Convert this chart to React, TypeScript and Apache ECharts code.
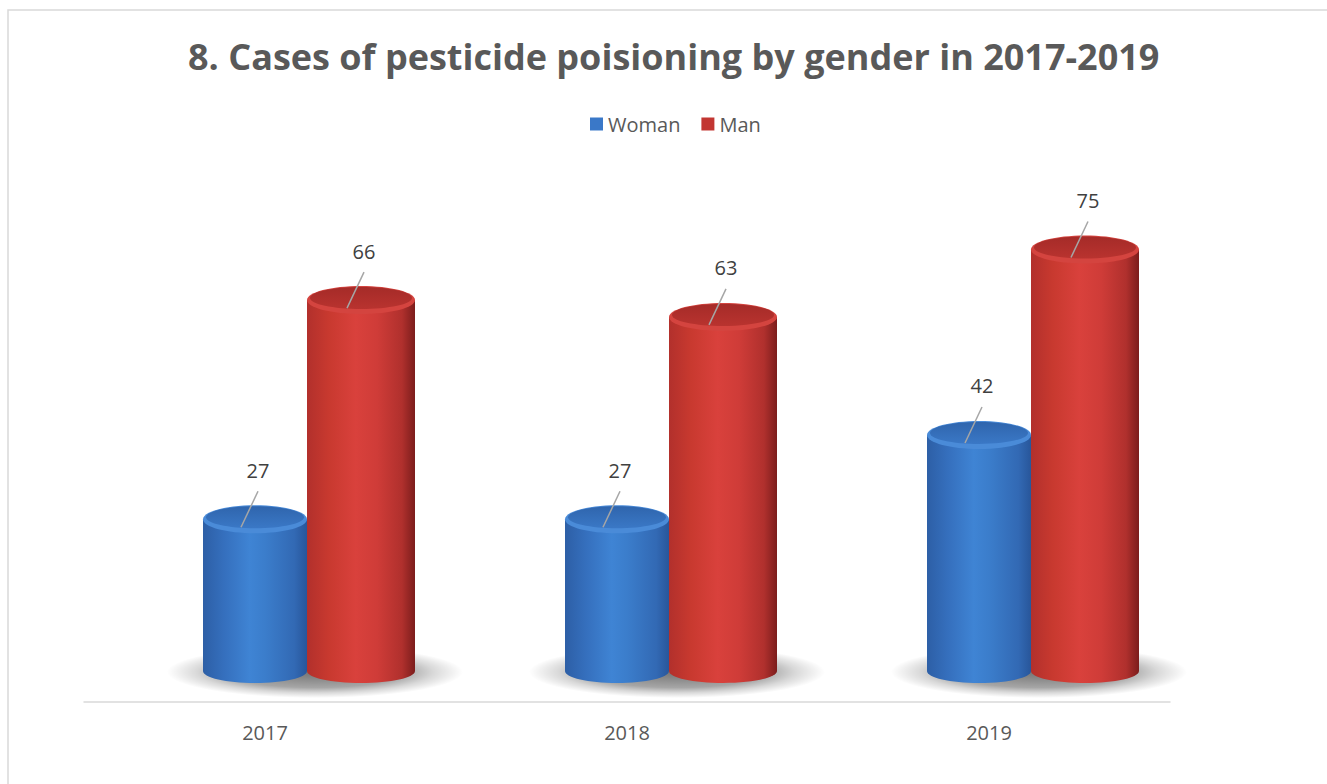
import React, { useEffect, useRef } from "react";
import * as echarts from "echarts";

const categories = ["2017", "2018", "2019"];
const womanValues = [27, 27, 42];
const manValues = [66, 63, 75];
const seriesNames = ["Woman", "Man"];

const DEPTH_X = 44;
const DEPTH_Y = -31;
const TOP_RY = 14;
const BOT_RY = 12;

const styles = [
  {
    offset: -54,
    width: 104,
    body: [
      [0, "#2d5fa6"],
      [0.2, "#356fbd"],
      [0.45, "#3f84d4"],
      [0.6, "#3b7dcb"],
      [0.88, "#3269b4"],
      [1, "#28569a"],
    ],
    rim: "#4a8bd8",
    top: ["#2f65ad", "#3a78c6"],
    legend: "#3a78c8",
  },
  {
    offset: 52,
    width: 108,
    body: [
      [0, "#b2302c"],
      [0.2, "#c8392f"],
      [0.45, "#d9413c"],
      [0.65, "#cf3c38"],
      [0.88, "#b0302d"],
      [1, "#7c1d1c"],
    ],
    rim: "#d4443f",
    top: ["#a52b28", "#b9332f"],
    legend: "#c23632",
  },
];

function makeRender(si: number) {
  const st = styles[si];
  return (params: any, api: any) => {
    const cat = api.value(0);
    const val = api.value(1);
    const base = api.coord([cat, 0]);
    const topPt = api.coord([cat, val]);
    const pairX = base[0] + DEPTH_X;
    const cx = pairX + st.offset;
    const yb = base[1] + DEPTH_Y;
    const yt = topPt[1] + DEPTH_Y;
    const w = st.width;
    const bodyGrad = new echarts.graphic.LinearGradient(
      0,
      0,
      1,
      0,
      st.body.map((s: any) => ({ offset: s[0], color: s[1] }))
    );
    const children: any[] = [];
    if (si === 0) {
      children.push({
        type: "ellipse",
        shape: { cx: pairX + 6, cy: yb + 1, rx: 148, ry: 26 },
        style: {
          fill: new echarts.graphic.RadialGradient(0.5, 0.5, 0.5, [
            { offset: 0, color: "rgba(0,0,0,0.55)" },
            { offset: 0.6, color: "rgba(0,0,0,0.35)" },
            { offset: 0.8, color: "rgba(0,0,0,0.15)" },
            { offset: 1, color: "rgba(0,0,0,0)" },
          ]),
        },
      });
    }
    children.push({
      type: "ellipse",
      shape: { cx, cy: yb, rx: w / 2, ry: BOT_RY },
      style: { fill: bodyGrad },
    });
    children.push({
      type: "rect",
      shape: { x: cx - w / 2, y: yt, width: w, height: yb - yt },
      style: { fill: bodyGrad },
    });
    children.push({
      type: "ellipse",
      shape: { cx, cy: yt, rx: w / 2, ry: TOP_RY },
      style: { fill: st.rim },
    });
    children.push({
      type: "ellipse",
      shape: { cx, cy: yt - 2, rx: w / 2 - 3, ry: TOP_RY - 3 },
      style: {
        fill: new echarts.graphic.LinearGradient(0, 0, 0, 1, [
          { offset: 0, color: st.top[0] },
          { offset: 1, color: st.top[1] },
        ]),
      },
    });
    children.push({
      type: "line",
      shape: { x1: cx - 14, y1: yt + 8, x2: cx + 3, y2: yt - 28 },
      style: { stroke: "#a6a6a6", lineWidth: 1.5 },
    });
    children.push({
      type: "text",
      x: cx + 3,
      y: yt - 49,
      style: {
        text: String(val),
        fill: "#404040",
        fontSize: 20,
        fontFamily: "Open Sans",
        align: "center",
        verticalAlign: "middle",
      },
    });
    return { type: "group", children };
  };
}

export default function App() {
  const ref = useRef<HTMLDivElement>(null);
  useEffect(() => {
    if (!ref.current) return;
    const chart = echarts.init(ref.current, undefined, { renderer: "svg" });
    const valueLists = [womanValues, manValues];
    chart.setOption({
      animation: false,
      backgroundColor: "#ffffff",
      title: {
        text: "8. Cases of pesticide poisioning by gender in 2017-2019",
        left: 183,
        top: 33,
        textStyle: {
          fontFamily: "Open Sans",
          fontWeight: "bold",
          fontSize: 36,
          color: "#595959",
        },
      },
      legend: {
        top: 109,
        left: 585,
        icon: "rect",
        itemWidth: 13,
        itemHeight: 13,
        itemGap: 21,
        data: seriesNames,
        textStyle: { fontFamily: "Open Sans", fontSize: 20, color: "#595959" },
      },
      graphic: [
        {
          type: "rect",
          shape: { x: 8, y: 10, width: 1400, height: 900 },
          style: { fill: "none", stroke: "#d9d9d9", lineWidth: 1.5 },
          silent: true,
          z: -10,
        },
      ],
      grid: { left: 84, right: 157, top: 140, bottom: 82 },
      xAxis: {
        type: "category",
        data: categories,
        axisLine: { show: true, lineStyle: { color: "#d9d9d9", width: 1.5 } },
        axisTick: { show: false },
        axisLabel: {
          fontFamily: "Open Sans",
          fontSize: 20,
          color: "#595959",
          margin: 20,
        },
      },
      yAxis: {
        type: "value",
        min: 0,
        max: 100,
        show: false,
        splitLine: { show: false },
      },
      series: seriesNames.map((name, si) => ({
        name,
        type: "custom",
        renderItem: makeRender(si),
        itemStyle: { color: styles[si].legend },
        data: categories.map((c, i) => [i, valueLists[si][i]]),
        encode: { x: 0, y: 1 },
        z: 2 + si,
      })),
    });
    return () => chart.dispose();
  }, []);
  return (
    <div
      ref={ref}
      style={{ position: "fixed", left: 0, top: 0, width: 1327, height: 784 }}
    />
  );
}
